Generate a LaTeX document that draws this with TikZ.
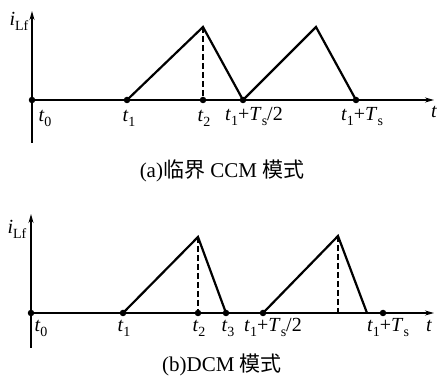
\documentclass[tikz,border=0pt]{standalone}
\usepackage{fontspec}
\setmainfont{Liberation Serif}
\newfontfamily\cjk{Noto Sans CJK SC}
\usetikzlibrary{arrows.meta}
\newcommand\sbs[1]{\raisebox{-0.22em}{\fontsize{14}{14}\selectfont #1}}
\newcommand\tv{\textit{t}}
\begin{document}
\begin{tikzpicture}[x=1pt,y=-1pt,
  wave/.style={line width=2.2pt,line join=miter},
  axis/.style={line width=1.4pt,-{Stealth[length=9pt,width=5pt]}},
  dot/.style={circle,fill,inner sep=0pt,minimum size=6.5pt},
  lab/.style={font=\fontsize{20}{20}\selectfont,inner sep=0pt,anchor=base},
  captxt/.style={font=\fontsize{21}{21}\selectfont,inner sep=0pt,anchor=base},
  dashv/.style={line width=2pt,dash pattern=on 6pt off 3pt}]
\useasboundingbox (0,0) rectangle (437,382);
% ---------- (a) ----------
\coordinate (aYt) at (32,11);
\coordinate (aYb) at (32,143);
\coordinate (aXe) at (434,100);
\coordinate (aP1) at (203,27);
\coordinate (aP2) at (316,27);
\draw[axis] (aYb) -- (aYt);
\node[dot] (a0) at (32,100) {};
\draw[axis] (a0.center) -- (aXe);
\node[dot] (a1) at (127,100) {};
\node[dot] (a2) at (203,100) {};
\node[dot] (a3) at (243,100) {};
\node[dot] (a4) at (356,100) {};
\draw[wave] (a1.center) -- (aP1) -- (a3.center) -- (aP2) -- (a4.center);
\draw[dashv] (aP1) -- (a2.center);
\node[lab] (la0) at (45,122) {\tv\sbs{0}};
\node[lab] (la1) at (129,122) {\tv\sbs{1}};
\node[lab] (la2) at (204,122) {\tv\sbs{2}};
\node[lab] (la3) at (254,121) {\tv\sbs{1}+\textit{T}\sbs{s}/2};
\node[lab] (la4) at (362,121) {\tv\sbs{1}+\textit{T}\sbs{s}};
\node[lab] (lat) at (434,118) {\tv};
\node[lab] (lai) at (19,26) {\textit{i}\sbs{Lf}};
\node[captxt] (capa) at (222,178) {(a){\cjk 临界} CCM {\cjk 模式}};
% ---------- (b) ----------
\coordinate (bYt) at (31,214);
\coordinate (bYb) at (31,348);
\coordinate (bXe) at (434,313);
\coordinate (bP1) at (198,237);
\coordinate (bP2) at (338,236);
\coordinate (bE) at (367,313);
\coordinate (bD) at (338,313);
\draw[axis] (bYb) -- (bYt);
\node[dot] (b0) at (31,313) {};
\draw[axis] (b0.center) -- (bXe);
\node[dot] (b1) at (123,313) {};
\node[dot] (b2) at (198,313) {};
\node[dot] (b3) at (226,313) {};
\node[dot] (b4) at (263,313) {};
\node[dot] (b5) at (383,313) {};
\draw[wave] (b1.center) -- (bP1) -- (b3.center);
\draw[wave] (b4.center) -- (bP2) -- (bE);
\draw[dashv] (bP1) -- (b2.center);
\draw[dashv] (bP2) -- (bD);
\node[lab] (lb0) at (41,332) {\tv\sbs{0}};
\node[lab] (lb1) at (124,332) {\tv\sbs{1}};
\node[lab] (lb2) at (199,332) {\tv\sbs{2}};
\node[lab] (lb3) at (228,332) {\tv\sbs{3}};
\node[lab] (lb4) at (273,332) {\tv\sbs{1}+\textit{T}\sbs{s}/2};
\node[lab] (lb5) at (388,332) {\tv\sbs{1}+\textit{T}\sbs{s}};
\node[lab] (lbt) at (429,332) {\tv};
\node[lab] (lbi) at (17,234) {\textit{i}\sbs{Lf}};
\node[captxt] (capb) at (222,372) {(b)DCM {\cjk 模式}};
\end{tikzpicture}
\end{document}
